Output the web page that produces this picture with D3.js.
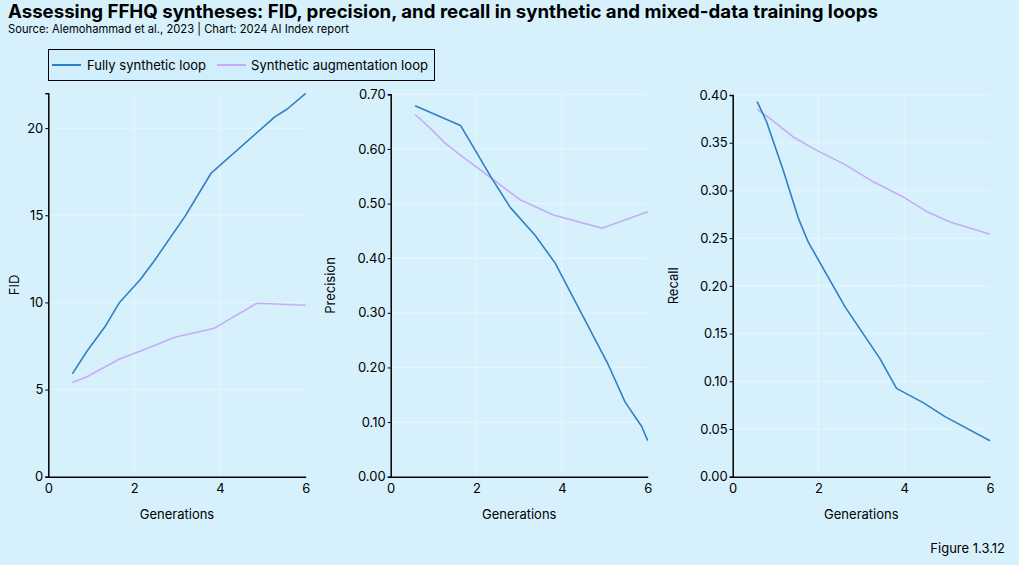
<!DOCTYPE html>
<html>
<head>
<meta charset="utf-8">
<script src="https://cdn.jsdelivr.net/npm/d3@7"></script>
<style>
  html, body { margin: 0; padding: 0; background: #d6f1fc; }
  svg { display: block; font-family: Inter, "Noto Sans", sans-serif; }
</style>
</head>
<body>
<svg id="chart" width="1019" height="565"></svg>
<script>
// ---- Data ----
const seriesNames = ["Fully synthetic loop", "Synthetic augmentation loop"];

const fidFullGen = [0.56, 0.9, 1.32, 1.66, 2.14, 2.46, 3.19, 3.79, 5.28, 5.57, 6.0];
const fidFull    = [5.9, 7.2, 8.6, 10.0, 11.3, 12.35, 14.95, 17.4, 20.65, 21.1, 22.0];
const fidAugGen  = [0.56, 0.91, 1.66, 2.14, 2.95, 3.85, 4.86, 6.0];
const fidAug     = [5.4, 5.75, 6.75, 7.2, 8.0, 8.5, 9.95, 9.84];

const precFullGen = [0.57, 1.63, 2.36, 2.79, 3.37, 3.84, 5.08, 5.47, 5.86, 6.0];
const precFull    = [0.679, 0.643, 0.546, 0.493, 0.442, 0.391, 0.205, 0.137, 0.092, 0.066];
const precAugGen  = [0.57, 0.92, 1.25, 1.62, 2.36, 3.02, 3.8, 4.93, 6.0];
const precAug     = [0.663, 0.638, 0.612, 0.589, 0.546, 0.507, 0.479, 0.455, 0.485];

const recFullGen = [0.57, 0.79, 1.18, 1.53, 1.76, 2.62, 3.43, 3.82, 4.44, 4.95, 6.0];
const recFull    = [0.393, 0.372, 0.321, 0.271, 0.246, 0.178, 0.124, 0.0926, 0.0776, 0.063, 0.0377];
const recAugGen  = [0.57, 0.79, 1.41, 1.96, 2.62, 3.28, 4.02, 4.52, 5.07, 6.0];
const recAug     = [0.385, 0.378, 0.356, 0.342, 0.327, 0.309, 0.292, 0.278, 0.267, 0.254];

const xTicks = [0, 2, 4, 6];
const fidTicks = [0, 5, 10, 15, 20];
const precTicks = [0, 0.1, 0.2, 0.3, 0.4, 0.5, 0.6, 0.7];
const recTicks = [0, 0.05, 0.1, 0.15, 0.2, 0.25, 0.3, 0.35, 0.4];

// ---- Styles ----
const colors = ["#2e80c6", "#c6acf6"];
const bg = "#d6f1fc";
const gridColor = "#e6f7fd";

const svg = d3.select("#chart");
svg.append("rect").attr("width", 1019).attr("height", 565).attr("fill", bg);

// Title & subtitle
svg.append("text").attr("x", 8).attr("y", 18)
  .attr("font-size", 18.5).attr("font-weight", 700).attr("fill", "#000")
  .attr("textLength", 870).attr("lengthAdjust", "spacingAndGlyphs")
  .text("Assessing FFHQ syntheses: FID, precision, and recall in synthetic and mixed-data training loops");
svg.append("text").attr("x", 8).attr("y", 33)
  .attr("font-size", 11.5).attr("fill", "#000")
  .attr("textLength", 341).attr("lengthAdjust", "spacingAndGlyphs")
  .text("Source: Alemohammad et al., 2023 | Chart: 2024 AI Index report");

// Legend
const lg = svg.append("g");
lg.append("rect").attr("x", 48.5).attr("y", 49.5).attr("width", 386).attr("height", 31)
  .attr("fill", "#d0eefb").attr("stroke", "#000").attr("stroke-width", 1);
const legendItems = [{x: 52, tx: 87, w: 119}, {x: 217, tx: 251, w: 177}];
legendItems.forEach((d, i) => {
  lg.append("line").attr("x1", d.x).attr("x2", d.x + 29).attr("y1", 65).attr("y2", 65)
    .attr("stroke", colors[i]).attr("stroke-width", 2);
  lg.append("text").attr("x", d.tx).attr("y", 70).attr("font-size", 13.5).attr("fill", "#000")
    .attr("textLength", d.w).attr("lengthAdjust", "spacingAndGlyphs")
    .text(seriesNames[i]);
});

// Panels
const panels = [
  { left: 48.3, right: 305.7, top: 93.3, yMax: 22, ticks: fidTicks, fmt: d3.format("d"),
    title: "FID", titleX: 14,
    series: [[fidFullGen, fidFull], [fidAugGen, fidAug]] },
  { left: 390.7, right: 647.7, top: 94.3, yMax: 0.70, ticks: precTicks, fmt: d3.format(".2f"),
    title: "Precision", titleX: 330,
    series: [[precFullGen, precFull], [precAugGen, precAug]] },
  { left: 732.7, right: 990, top: 95, yMax: 0.40, ticks: recTicks, fmt: d3.format(".2f"),
    title: "Recall", titleX: 673,
    series: [[recFullGen, recFull], [recAugGen, recAug]] }
];
const bottom = 476.7;

panels.forEach(p => {
  const x = d3.scaleLinear().domain([0, 6]).range([p.left, p.right]);
  const y = d3.scaleLinear().domain([0, p.yMax]).range([bottom, p.top]);
  const g = svg.append("g");

  // gridlines
  g.selectAll(".hg").data(p.ticks.filter(t => t > 0)).enter().append("line")
    .attr("x1", p.left).attr("x2", p.right)
    .attr("y1", d => y(d)).attr("y2", d => y(d))
    .attr("stroke", gridColor).attr("stroke-width", 1);
  g.selectAll(".vg").data(xTicks.filter(t => t > 0 && t < 6)).enter().append("line")
    .attr("x1", d => x(d)).attr("x2", d => x(d))
    .attr("y1", p.top).attr("y2", bottom)
    .attr("stroke", gridColor).attr("stroke-width", 1);

  // axes
  const yAxis = d3.axisLeft(y).tickValues(p.ticks).tickFormat(p.fmt).tickSize(3).tickPadding(2);
  const ya = g.append("g").attr("transform", `translate(${p.left},0)`).call(yAxis);
  const xAxis = d3.axisBottom(x).tickValues(xTicks).tickFormat(d3.format("d")).tickSize(0).tickPadding(7);
  const xa = g.append("g").attr("transform", `translate(0,${bottom})`).call(xAxis);
  [ya, xa].forEach(a => {
    a.select(".domain").attr("stroke", "#000").attr("stroke-width", 1.5);
    a.selectAll(".tick line").attr("stroke", "#000");
    a.selectAll(".tick text").attr("font-size", 13).attr("fill", "#000")
      .attr("font-family", "Inter, 'Noto Sans', sans-serif");
  });

  // axis titles
  g.append("text").attr("transform", `translate(${p.titleX},${(p.top + bottom) / 2}) rotate(-90)`)
    .attr("text-anchor", "middle").attr("dy", "0.35em").attr("font-size", 13).attr("fill", "#000")
    .text(p.title);
  g.append("text").attr("x", (p.left + p.right) / 2).attr("y", 519)
    .attr("text-anchor", "middle").attr("font-size", 13).attr("fill", "#000")
    .text("Generations");

  // lines
  const line = d3.line().x(d => x(d[0])).y(d => y(d[1]));
  p.series.slice().reverse().forEach((s, ri) => {
    const i = p.series.length - 1 - ri;
    const pts = s[0].map((gv, k) => [gv, s[1][k]]);
    g.append("path").datum(pts).attr("d", line)
      .attr("fill", "none").attr("stroke", colors[i]).attr("stroke-width", 1.6)
      .attr("stroke-linejoin", "round");
  });
});

// Figure label
svg.append("text").attr("x", 1005).attr("y", 553).attr("text-anchor", "end")
  .attr("font-size", 13).attr("fill", "#000").text("Figure 1.3.12");
</script>
</body>
</html>
